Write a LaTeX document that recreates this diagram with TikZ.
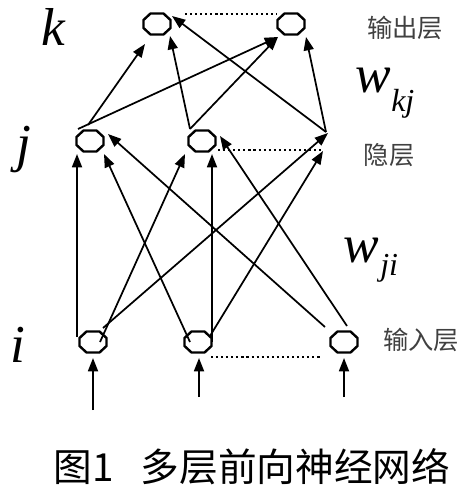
\documentclass[tikz,border=0pt]{standalone}
\usepackage{fontspec}
\setmainfont{Liberation Serif}
\newfontfamily\cjk{Noto Sans CJK SC}
\usetikzlibrary{arrows.meta,calc}
\tikzset{
  neuron/.style={rectangle, draw=none, inner sep=0pt, minimum width=21pt, minimum height=16.5pt},
  octline/.style={line width=1.8pt, line join=miter},
  conn/.style={line width=1.3pt, -{Triangle[length=10pt,width=7.5pt]}},
  dots/.style={line width=1.8pt, dash pattern=on 1.6pt off 2.2pt},
  varlbl/.style={font=\fontsize{40pt}{40pt}\selectfont\itshape, inner sep=0pt},
  wlbl/.style={font=\fontsize{40pt}{40pt}\selectfont\itshape, inner sep=0pt, anchor=base west},
  sublbl/.style={font=\fontsize{24pt}{24pt}\selectfont\itshape, inner sep=0pt, anchor=base west},
  layerlbl/.style={font=\cjk\fontsize{19pt}{19pt}\selectfont, text=black!75, inner sep=0pt},
  caption/.style={font=\cjk\fontsize{29pt}{29pt}\selectfont, inner sep=0pt}
}
\begin{document}
\begin{tikzpicture}[x=0.75pt,y=-0.75pt]
\useasboundingbox (0,0) rectangle (469,492);
% nodes
\node[neuron] (k1) at (157,24) {};
\node[neuron] (k2) at (291,24) {};
\node[neuron] (j1) at (90,141) {};
\node[neuron] (j2) at (202,141) {};
\coordinate (j3) at (326,132);
\node[neuron] (i1) at (93,342) {};
\node[neuron] (i2) at (198,342) {};
\node[neuron] (i3) at (344,342) {};
% octagon outlines
\foreach \n in {k1,k2,j1,j2,i1,i2,i3}
  \draw[octline] ($(\n)+(-6.5,-10.5)$) -- ($(\n)+(6.5,-10.5)$) -- ($(\n)+(13.5,-4)$)
    -- ($(\n)+(13.5,4)$) -- ($(\n)+(6.5,10.5)$) -- ($(\n)+(-6.5,10.5)$)
    -- ($(\n)+(-13.5,4)$) -- ($(\n)+(-13.5,-4)$) -- cycle;
% input feeds
\coordinate (in1) at (93,410);
\coordinate (in2) at (199,397);
\coordinate (in3) at (344,397);
\draw[conn] (in1) -- ($(i1)+(0,16)$);
\draw[conn] (in2) -- ($(i2)+(1,16)$);
\draw[conn] (in3) -- ($(i3)+(0,16)$);
% input -> hidden
\draw[conn] ($(i1)+(-16,-5)$) -- ($(j1)+(-13,13)$);
\draw[conn] ($(i2)+(-8,0)$) -- ($(j1)+(14,13)$);
\draw[conn] ($(i3)+(-19,-15)$) -- ($(j1)+(18,-7)$);
\draw[conn] ($(i1)+(7,0)$) -- ($(j2)+(-17,13)$);
\draw[conn] ($(i2)+(14,0)$) -- ($(j2)+(10,13)$);
\draw[conn] ($(i3)+(3,-16)$) -- ($(j2)+(18,-5)$);
\draw[conn] ($(i1)+(10,-14)$) -- ($(j3)+(2,1)$);
\draw[conn] ($(i2)+(12,-6)$) -- ($(j3)+(-3,19)$);
% hidden -> output
\draw[conn] ($(j1)+(-2,-16)$) -- ($(k1)+(-12,20)$);
\draw[conn] ($(j1)+(-12,-12)$) -- ($(k2)+(-13,13)$);
\draw[conn] ($(j2)+(-12,-12)$) -- ($(k1)+(13,12)$);
\draw[conn] ($(j2)+(-12,-12)$) -- ($(k2)+(-13,13)$);
\draw[conn] (j3) -- ($(k1)+(15,-8)$);
\draw[conn] (j3) -- ($(k2)+(15,13)$);
% dotted
\draw[dots] ($(k1)+(28,-10)$) -- ($(k2)+(-14,-10)$);
\draw[dots] ($(j2)+(16,9)$) -- ($(j3)+(-4,18)$);
\draw[dots] ($(i2)+(13,15)$) -- ($(i3)+(-24,15)$);
% labels
\node[varlbl] (lk) at (53,27) {k};
\node[varlbl] (lj) at (24,150) {j};
\node[varlbl] (li) at (18,345) {i};
\node[wlbl] (w1) at (355,93) {w};
\node[sublbl] (s1) at (391,111) {kj};
\node[wlbl] (w2) at (343,262) {w};
\node[sublbl] (s2) at (380,275) {ji};
\node[layerlbl] (lo) at (405,28) {输出层};
\node[layerlbl] (lh) at (389,155) {隐层};
\node[layerlbl] (lin) at (421,340) {输入层};
\node[caption] (cap) at (252,467) {图1\hspace{0.7em}多层前向神经网络};
\end{tikzpicture}
\end{document}
